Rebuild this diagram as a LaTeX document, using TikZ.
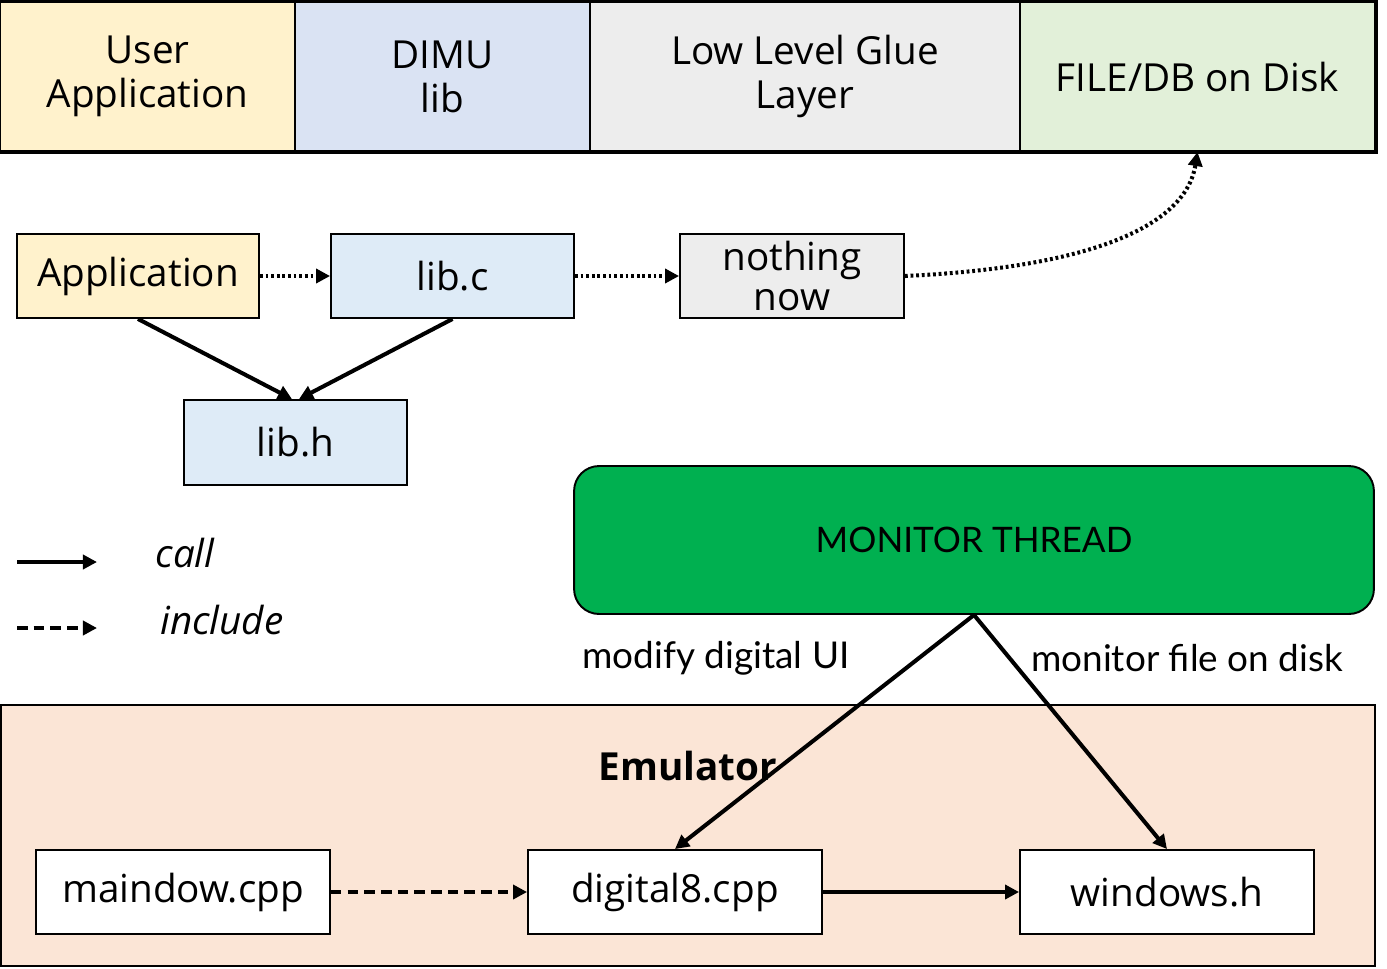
\documentclass[tikz,border=0pt]{standalone}
\usepackage{fontspec}
\setmainfont{Open Sans}
\newfontfamily\thinfont{Lato}
\usetikzlibrary{arrows.meta}
\definecolor{userfill}{HTML}{FFF2CC}
\definecolor{dimufill}{HTML}{DAE3F3}
\definecolor{libfill}{HTML}{DEEBF7}
\definecolor{gluefill}{HTML}{EDEDED}
\definecolor{diskfill}{HTML}{E2F0D9}
\definecolor{monfill}{HTML}{00B050}
\definecolor{emufill}{HTML}{FBE5D6}
\tikzset{
  cell/.style={draw=black, line width=1.1pt, minimum height=2.98cm, align=center, inner sep=0pt, font=\fontsize{22}{25}\selectfont},
  filebox/.style={draw=black, line width=1.1pt, minimum height=1.68cm, align=center, inner sep=0pt, font=\fontsize{22}{23}\selectfont},
  call/.style={line width=2.3pt, -{Triangle[length=8pt,width=8pt]}},
  incl/.style={line width=2.3pt, dash pattern=on 6pt off 3.5pt, -{Triangle[length=8pt,width=8pt]}},
  glue/.style={line width=2.3pt, dash pattern=on 1.6pt off 1.6pt, -{Triangle[length=8pt,width=8pt]}},
  note/.style={font=\thinfont\fontsize{21}{23}\selectfont}
}
\begin{document}
\begin{tikzpicture}[x=0.02cm,y=-0.02cm]
\useasboundingbox (0,0) rectangle (1387,968);
\node[cell, fill=userfill, minimum width=5.9cm] (user) at (147.5,76.5) {User\\Application};
\node[cell, fill=dimufill, minimum width=5.9cm] (dimu) at (442.5,76.5) {DIMU\\lib};
\node[cell, fill=gluefill, minimum width=8.6cm] (glue) at (805,76.5) {Low Level Glue\\Layer};
\node[cell, fill=diskfill, minimum width=7.1cm] (disk) at (1197.5,76.5) {FILE/DB on Disk};
\draw[line width=2pt] (user.north west) rectangle (disk.south east);
\node[filebox, fill=userfill, minimum width=4.84cm] (app) at (138,276) {Application};
\node[filebox, fill=libfill, minimum width=4.86cm] (libc) at (452.5,276) {lib.c};
\node[filebox, fill=gluefill, minimum width=4.48cm] (nothing) at (792,276) {nothing\\now};
\node[filebox, fill=libfill, minimum width=4.46cm, minimum height=1.7cm] (libh) at (295.5,442.5) {lib.h};
\draw[glue] (app) -- (libc);
\draw[glue] (libc) -- (nothing);
\draw[glue] (nothing.east) .. controls (1080,268) and (1185,230) .. (disk.south);
\draw[call] (app.south) -- ([xshift=-0.07cm]libh.north);
\draw[call] (libc.south) -- ([xshift=0.07cm]libh.north);
\coordinate (callA) at (17,562); \coordinate (callB) at (97,562);
\coordinate (inclA) at (17,628); \coordinate (inclB) at (97,628);
\draw[call] (callA) -- (callB);
\draw[incl] (inclA) -- (inclB);
\node[font=\fontsize{22}{24}\selectfont\itshape] (calltxt) at (185,553) {call};
\node[font=\fontsize{22}{24}\selectfont\itshape] (incltxt) at (222,620) {include};
\node[draw=black, line width=1.1pt, fill=monfill, rounded corners=0.5cm, minimum width=16cm, minimum height=2.96cm, font=\thinfont\fontsize{20}{22}\selectfont] (mon) at (974,540) {MONITOR THREAD};
\node[note] (modtxt) at (716,658) {modify digital UI};
\node[note] (montxt) at (1187,658) {monitor file on disk};
\node[draw=black, line width=1.1pt, fill=emufill, minimum width=27.48cm, minimum height=5.22cm] (emu) at (688,835.5) {};
\node[font=\fontsize{22}{24}\selectfont\bfseries] (emutxt) at (688,766) {Emulator};
\node[filebox, fill=white, minimum width=5.88cm] (maindow) at (183,892) {maindow.cpp};
\node[filebox, fill=white, minimum width=5.88cm] (digital) at (675,892) {digital8.cpp};
\node[filebox, fill=white, minimum width=5.88cm] (windows) at (1167,892) {windows.h};
\draw[incl] (maindow) -- (digital);
\draw[call] (digital) -- (windows);
\draw[call] (mon.south) -- (digital.north);
\draw[call] (mon.south) -- (windows.north);
\end{tikzpicture}
\end{document}
